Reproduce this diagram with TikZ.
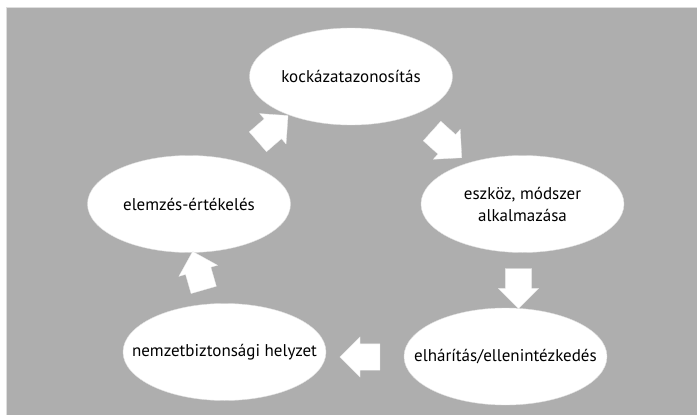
\documentclass[tikz,border=0pt]{standalone}
\usepackage{fontspec}
\setmainfont{PT Sans}
\usetikzlibrary{shapes.geometric,shapes.arrows}
\definecolor{bggray}{RGB}{174,174,174}
\definecolor{rimgray}{RGB}{222,222,222}
\tikzset{
  stagetext/.style={align=center, text=black, inner sep=0pt,
    font=\fontsize{17}{22}\selectfont},
  stage/.style={ellipse, fill=white, draw=white!88!black, line width=0.4pt,
    minimum width=203pt, minimum height=97pt, inner sep=0pt,
    label={[stagetext]center:#1}},
  flow/.style={single arrow, fill=white, draw=white!92!black, line width=0.3pt,
    minimum height=40pt, inner xsep=0pt, inner ysep=13pt,
    single arrow head extend=7pt},
}
\begin{document}
\begin{tikzpicture}[x=1pt, y=-1pt]
	\useasboundingbox (0,0) rectangle (697,415);
	\fill[bggray] (7,8) rectangle (697,415);
	\draw[rimgray, line width=1pt] (6.5,415) -- (6.5,7.5) -- (697,7.5);
	% the five stages of the cycle
	\node[stage={kockázatazonosítás}] (risk) at (351, 76.5) {};
	\node[stage={eszköz, módszer\\alkalmazása}] (tool) at (522.5, 204) {};
	\node[stage={elhárítás/ellenintézkedés}] (counter) at (505.5, 356.5) {};
	\node[stage={nemzetbiztonsági helyzet}] (state) at (224.5, 352) {};
	\node[stage={elemzés-értékelés}] (eval) at (189, 204) {};
	% block arrows between them
	\node[flow, rotate=-42] (a1) at (442, 140) {};
	\node[flow, rotate=-90] (a2) at (518.5, 282) {};
	\node[flow, rotate=180] (a3) at (366.5, 357) {};
	\node[flow, rotate=106] (a4) at (200, 277) {};
	\node[flow, rotate=41] (a5) at (268, 133) {};
\end{tikzpicture}
\end{document}
